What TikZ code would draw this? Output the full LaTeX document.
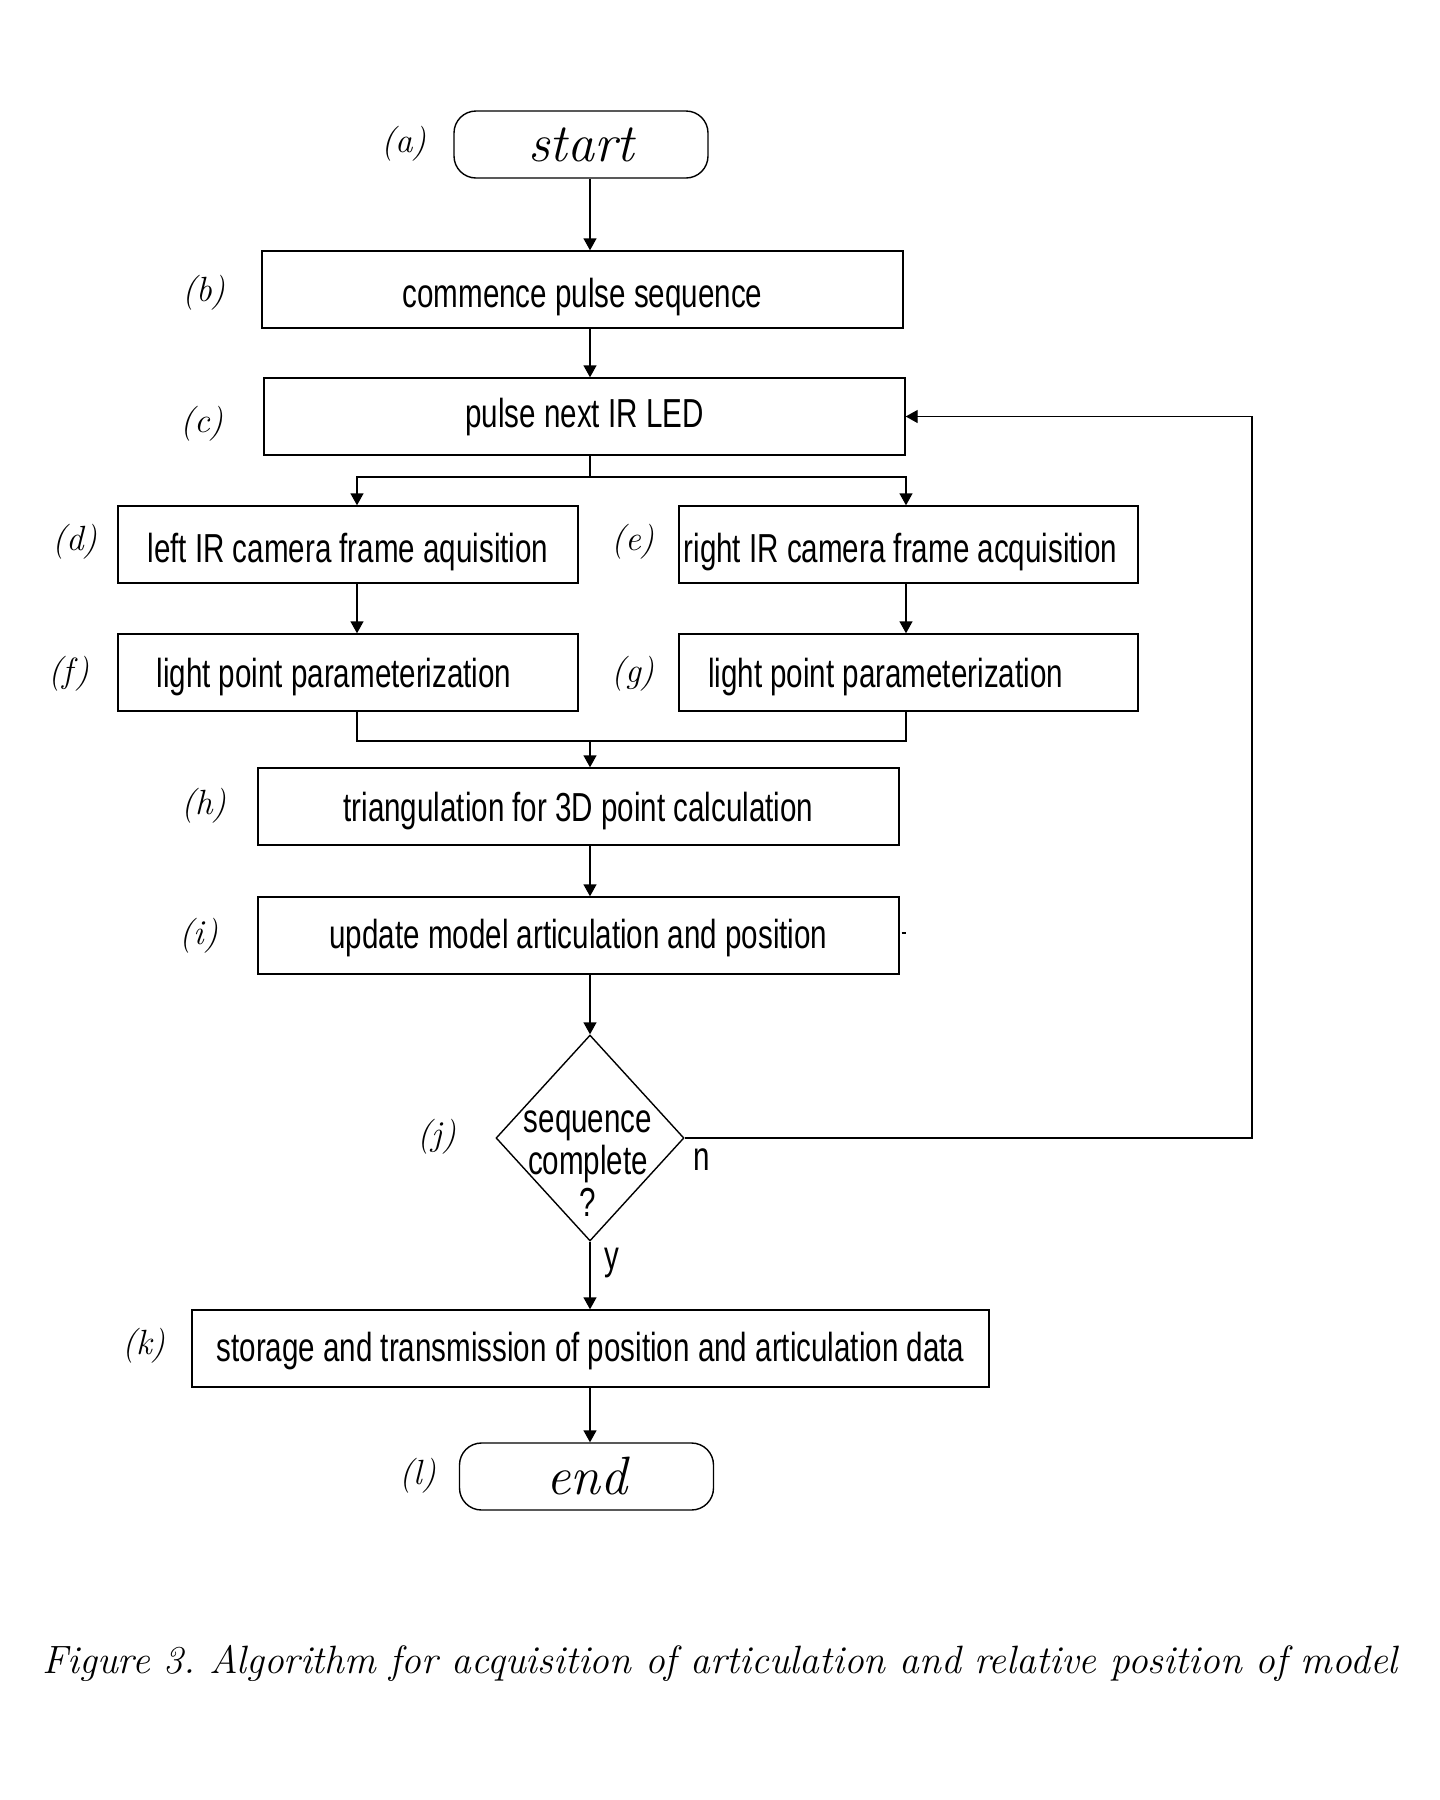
\documentclass[tikz,border=0pt]{standalone}
\usepackage{fontspec}
\newfontfamily\narrowfont[FakeStretch=0.73]{Liberation Sans}
\usetikzlibrary{shapes.geometric,arrows.meta}
\newcommand\boxfont{\narrowfont\fontsize{20.25pt}{21pt}\selectfont}
\newcommand\labfont{\fontsize{17.5pt}{19pt}\selectfont\itshape}
\newcommand\termfont{\fontsize{27pt}{30pt}\selectfont\itshape}
\newcommand\capfont{\fontsize{19.75pt}{22pt}\selectfont\itshape\frenchspacing}
\begin{document}
\begin{tikzpicture}[x=0.5pt,y=-0.5pt,
  line width=0.7pt,
  box/.style={draw, inner sep=0pt, minimum height=38.5pt, font=\boxfont, text height=17pt, text depth=4pt},
  term/.style={draw, rounded corners=11pt, inner sep=0pt, minimum width=127pt, minimum height=33.5pt, font=\termfont},
  lab/.style={font=\labfont, inner sep=0pt},
  arr/.style={-{Triangle[length=6pt,width=6.5pt]}},
  plain/.style={font=\boxfont, inner sep=0pt}]
\fill[white] (0,0) rectangle (1440,1800);
\useasboundingbox (0,0) rectangle (1440,1800);

% column coordinates
\coordinate (col) at (590,0);
\coordinate (dcol) at (357,0);
\coordinate (ecol) at (906,0);
\coordinate (loopx) at (1252,0);
\coordinate (split) at (590,477);
\coordinate (merge) at (590,741);

% nodes
\node[term] (start) at (581,144.5) {start};
\node[box, minimum width=320.5pt, text height=21.8pt] (b) at (582.5,289.5) {commence pulse sequence};
\node[box, minimum width=320.5pt, text height=14.6pt] (c) at (584.5,416.5) {pulse next IR LED};
\node[box, minimum width=230pt, text height=21.6pt] (d) at (348,544.5) {left IR camera frame aquisition};
\node[box, minimum width=229.5pt, text height=21.6pt] (e) at (908.5,544.5) {\hspace*{-8pt}right IR camera frame acquisition};
\node[box, minimum width=230pt, text height=19.4pt] (f) at (348,672.5) {\hspace*{-14pt}light point parameterization};
\node[box, minimum width=229.5pt, text height=19.4pt] (g) at (908.5,672.5) {\hspace*{-23pt}light point parameterization};
\node[box, minimum width=320.5pt, text height=19pt] (h) at (578.5,806.5) {triangulation for 3D point calculation};
\node[box, minimum width=320.5pt, text height=17.4pt] (i) at (578.5,935.5) {update model articulation and position};
\node[draw, diamond, inner sep=0pt, minimum width=94pt, minimum height=103pt] (j) at (590,1138) {};
\node[plain, align=center] (jt) at (588,1164) {sequence\\complete\\?};
\node[box, minimum width=398.5pt, text height=17.4pt] (k) at (590.5,1348.5) {storage and transmission of position and articulation data};
\node[term] (l) at (586.5,1476.5) {end};

% letter labels
\node[lab] (la) at (404,144) {(a)};
\node[lab] (lb) at (204,293) {(b)};
\node[lab] (lc) at (202,424) {(c)};
\node[lab] (ld) at (75,542) {(d)};
\node[lab] (le) at (633,542) {(e)};
\node[lab] (lf) at (69,674) {(f)};
\node[lab] (lg) at (633,674) {(g)};
\node[lab] (lh) at (204,806) {(h)};
\node[lab] (li) at (199,936) {(i)};
\node[lab] (lj) at (437,1137) {(j)};
\node[lab] (lk) at (144,1346) {(k)};
\node[lab] (ll) at (418,1476) {(l)};

% connectors
\draw[arr] (start.south -| col) -- (b.north -| col);
\draw[arr] (b.south -| col) -- (c.north -| col);
\draw (c.south -| col) -- (split);
\draw[arr] (split) -| (d.north -| dcol);
\draw[arr] (split) -| (e.north -| ecol);
\draw[arr] (d.south -| dcol) -- (f.north -| dcol);
\draw[arr] (e.south -| ecol) -- (g.north -| ecol);
\draw (f.south -| dcol) |- (merge);
\draw (g.south -| ecol) |- (merge);
\draw[arr] (merge) -- (h.north -| col);
\draw[arr] (h.south -| col) -- (i.north -| col);
\draw[arr] (i.south -| col) -- (j.north);
\draw[arr] (j.south) -- (k.north -| col);
\draw[arr] (k.south -| col) -- (l.north -| col);
\draw[arr] (j.east) -- (j.east -| loopx) -- (loopx |- c.east) -- (c.east);
\draw ([xshift=1pt,yshift=1.2pt]i.east) -- ++(2pt,0);

\node[plain] (nl) at (702,1160) {n};
\node[plain] (yl) at (612,1263) {y};

% caption
\node[font=\capfont, inner sep=0pt] (cap) at (720,1663) {Figure 3. Algorithm for acquisition of articulation and relative position of model};
\end{tikzpicture}
\end{document}
